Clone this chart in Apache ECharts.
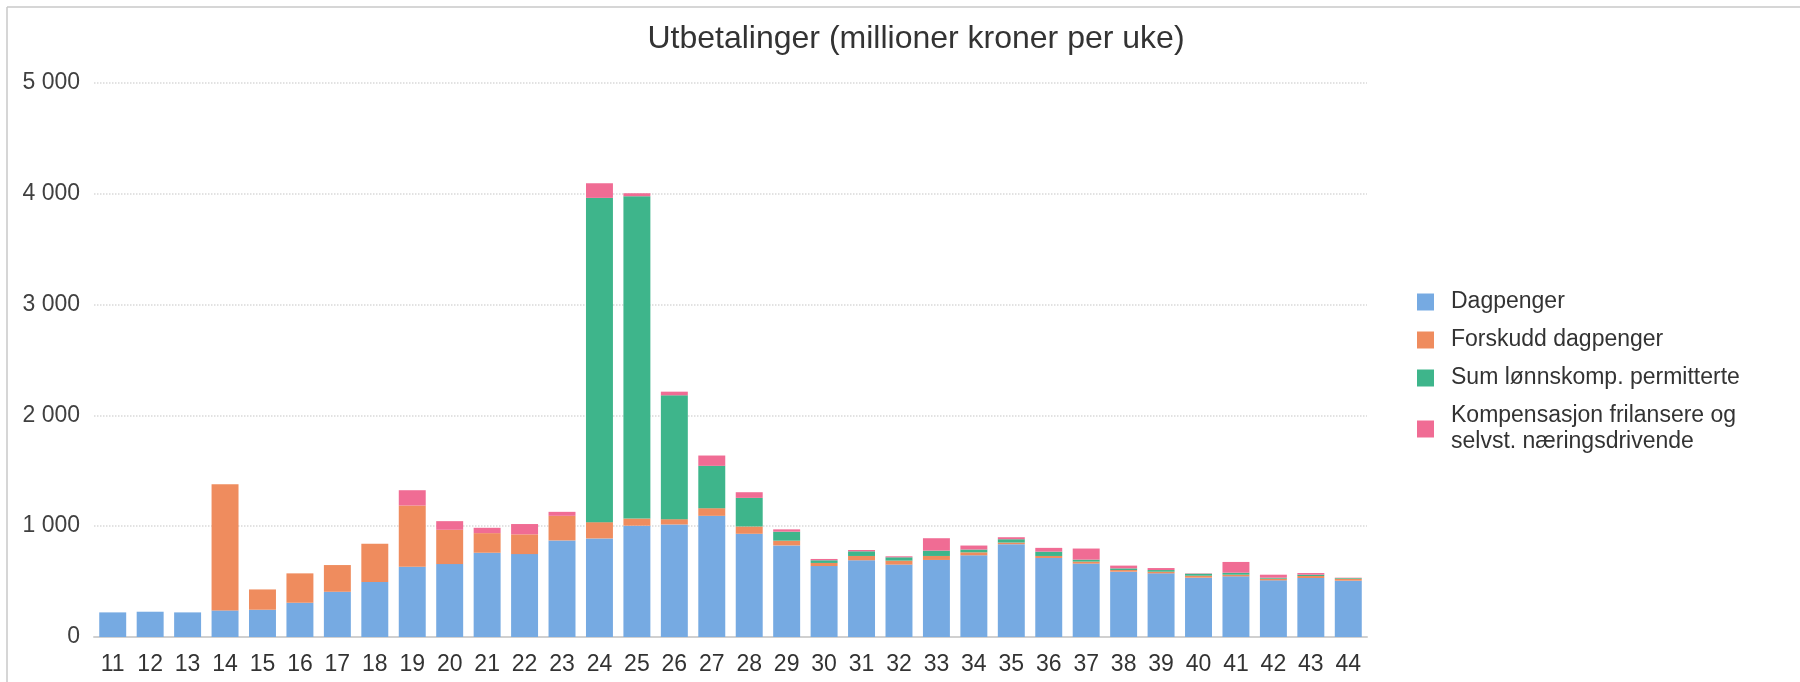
<!DOCTYPE html>
<html>
<head>
<meta charset="utf-8">
<script src="https://cdn.jsdelivr.net/npm/echarts@6/dist/echarts.min.js"></script>
<style>
html,body{margin:0;padding:0;background:#fff;}
#chart{width:1800px;height:682px;}
</style>
</head>
<body>
<div id="chart"></div>
<script>
const weeks = ['11','12','13','14','15','16','17','18','19','20','21','22','23','24','25','26','27','28','29','30','31','32','33','34','35','36','37','38','39','40','41','42','43','44'];
const dagpenger = [222,228,222,240,246,309,408,495,634,658,760,748,871,889,1004,1015,1093,931,826,640,692,653,695,737,837,713,662,589,574,535,547,511,532,508];
const forskudd = [0,0,0,1138,183,265,241,346,552,309,177,178,222,147,65,48,69,66,43,28,39,36,36,27,15,18,18,15,15,18,15,15,18,18];
const lonnskomp = [0,0,0,0,0,0,0,0,0,0,0,0,0,2925,2907,1117,382,258,81,24,42,30,48,25,30,39,18,15,15,18,18,9,12,6];
const kompensasjon = [0,0,0,0,0,0,0,0,138,78,48,93,36,132,27,33,93,51,21,12,12,9,112,36,18,34,100,25,18,3,97,27,15,3];
const seriesNames = ['Dagpenger','Forskudd dagpenger','Sum lønnskomp. permitterte','Kompensasjon frilansere og\nselvst. næringsdrivende'];
const colors = ['#76AAE2','#EF8C5E','#3EB58B','#F06C94'];

const font = '"Liberation Sans", Arial, sans-serif';
const fmt = v => String(v).replace(/\B(?=(\d{3})+(?!\d))/g, ' ');

const chart = echarts.init(document.getElementById('chart'));
const mk = (name, data, i) => ({
  name, type: 'bar', stack: 'total', data,
  barWidth: '72%',
  itemStyle: { color: colors[i] },
  emphasis: { disabled: true }
});
chart.setOption({
  animation: false,
  backgroundColor: '#fff',
  color: colors,
  title: {
    text: 'Utbetalinger (millioner kroner per uke)',
    left: 911, textAlign: 'center', top: 18,
    textStyle: { fontFamily: font, fontSize: 32, fontWeight: 'normal', color: '#333' }
  },
  graphic: [
    { type: 'line', shape: { x1: 7, y1: 7, x2: 1800, y2: 7 }, style: { stroke: '#c8c8c8', lineWidth: 1.5 } },
    { type: 'line', shape: { x1: 7, y1: 7, x2: 7, y2: 682 }, style: { stroke: '#c8c8c8', lineWidth: 1.5 } }
  ],
  legend: {
    orient: 'vertical', left: 1412, top: 284,
    itemWidth: 17, itemHeight: 17, itemGap: 12,
    icon: 'rect',
    data: seriesNames,
    textStyle: { fontFamily: font, fontSize: 23, color: '#333', lineHeight: 26, padding: [0,0,0,12] }
  },
  grid: { left: 94, right: 433, top: 82.7, bottom: 45, containLabel: false },
  xAxis: {
    type: 'category', data: weeks,
    axisLine: { lineStyle: { color: '#d0d0d0', width: 2 } },
    axisTick: { length: 7, lineStyle: { color: '#d0d0d0', width: 2 } },
    axisLabel: { fontFamily: font, fontSize: 23, color: '#333', margin: 16 }
  },
  yAxis: {
    type: 'value', min: 0, max: 5000, interval: 1000,
    axisLine: { show: false }, axisTick: { show: false },
    splitLine: { lineStyle: { color: '#d9d9d9', type: 'dotted', width: 1.5 } },
    axisLabel: { fontFamily: font, fontSize: 23, color: '#404040', margin: 14, formatter: fmt }
  },
  series: [
    mk(seriesNames[0], dagpenger, 0),
    mk(seriesNames[1], forskudd, 1),
    mk(seriesNames[2], lonnskomp, 2),
    mk(seriesNames[3], kompensasjon, 3)
  ]
});
</script>
</body>
</html>
